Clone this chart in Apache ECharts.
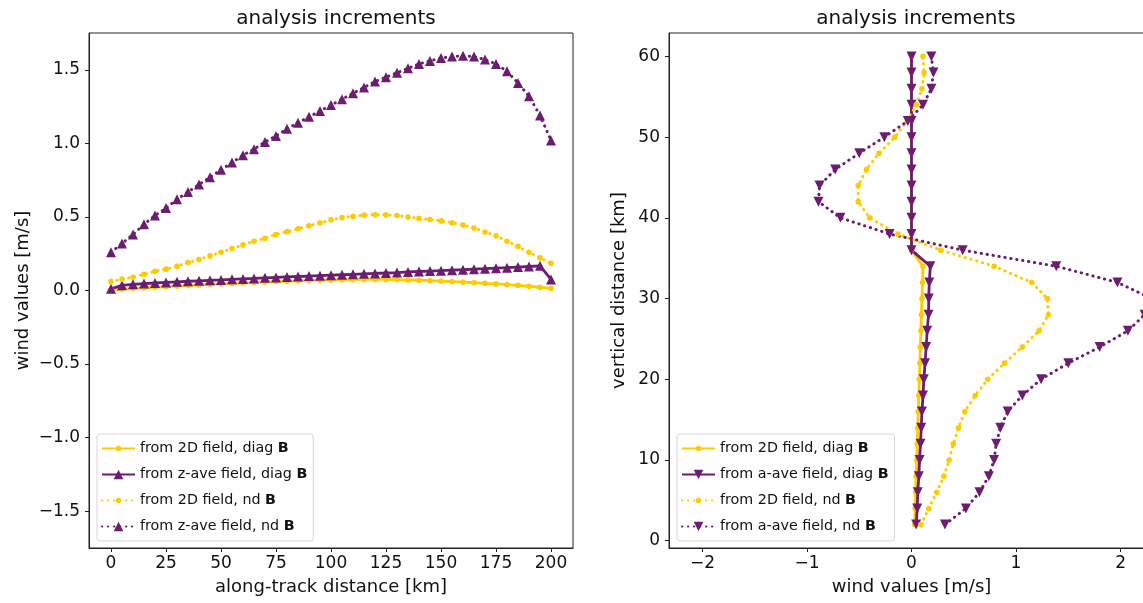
<!DOCTYPE html>
<html>
<head>
<meta charset="utf-8">
<script src="https://cdn.jsdelivr.net/npm/echarts@6/dist/echarts.min.js"></script>
<style>
html, body { margin: 0; padding: 0; background: #fff; }
#chart { width: 1143px; height: 603px; }
</style>
</head>
<body>
<div id="chart"></div>
<script>
// left panel: along-track profiles (km, m/s)
var alongTrack = [0, 5, 10, 15, 20, 25, 30, 35, 40, 45, 50, 55, 60, 65, 70, 75, 80, 85, 90, 95,
  100, 105, 110, 115, 120, 125, 130, 135, 140, 145, 150, 155, 160, 165, 170, 175, 180, 185, 190, 195, 200];
var twoDDiagLeft = [0.004, 0.010, 0.014, 0.018, 0.022, 0.026, 0.030, 0.034, 0.038, 0.042, 0.045, 0.049, 0.052, 0.055, 0.058, 0.061, 0.064, 0.066, 0.068, 0.070,
  0.072, 0.073, 0.074, 0.075, 0.075, 0.075, 0.074, 0.072, 0.070, 0.067, 0.064, 0.061, 0.057, 0.053, 0.049, 0.045, 0.040, 0.035, 0.029, 0.022, 0.014];
var zAveDiagLeft = [0.012, 0.035, 0.042, 0.047, 0.051, 0.055, 0.059, 0.063, 0.066, 0.069, 0.072, 0.076, 0.079, 0.082, 0.086, 0.089, 0.092, 0.095, 0.098, 0.101,
  0.104, 0.107, 0.110, 0.113, 0.116, 0.119, 0.122, 0.126, 0.129, 0.132, 0.135, 0.138, 0.141, 0.145, 0.148, 0.152, 0.155, 0.159, 0.163, 0.168, 0.075];
var twoDNdLeft = [0.06, 0.077, 0.09, 0.11, 0.13, 0.145, 0.165, 0.19, 0.21, 0.235, 0.26, 0.285, 0.31, 0.335, 0.355, 0.38, 0.40, 0.42, 0.44, 0.46,
  0.48, 0.495, 0.505, 0.512, 0.515, 0.515, 0.51, 0.50, 0.49, 0.483, 0.473, 0.46, 0.445, 0.425, 0.398, 0.372, 0.335, 0.30, 0.26, 0.222, 0.185];
var zAveNdLeft = [0.26, 0.32, 0.38, 0.45, 0.51, 0.56, 0.62, 0.67, 0.72, 0.77, 0.82, 0.87, 0.92, 0.96, 1.01, 1.05, 1.10, 1.14, 1.18, 1.22,
  1.26, 1.30, 1.34, 1.38, 1.42, 1.45, 1.48, 1.51, 1.54, 1.56, 1.58, 1.59, 1.595, 1.59, 1.57, 1.54, 1.49, 1.41, 1.32, 1.19, 1.02];

// right panel: vertical profiles (km, m/s)
var heights = [2, 4, 6, 8, 10, 12, 14, 16, 18, 20, 22, 24, 26, 28, 30, 32, 34, 36, 38, 40, 42, 44, 46, 48, 50, 52, 54, 56, 58, 60];
var twoDDiagRight = [0.03, 0.035, 0.04, 0.045, 0.05, 0.055, 0.06, 0.065, 0.07, 0.075, 0.08, 0.085, 0.09, 0.095, 0.10, 0.105, 0.11,
  0, 0, 0, 0, 0, 0, 0, 0, 0, 0, 0, 0, 0];
var aAveDiagRight = [0.045, 0.055, 0.06, 0.07, 0.077, 0.086, 0.093, 0.10, 0.11, 0.118, 0.13, 0.14, 0.15, 0.163, 0.165, 0.17, 0.18,
  0, 0, 0, 0, 0, 0, 0, 0, 0, 0, 0, 0, 0];
var twoDNdRight = [0.09, 0.165, 0.24, 0.31, 0.36, 0.40, 0.45, 0.51, 0.61, 0.73, 0.89, 1.06, 1.22, 1.31, 1.30, 1.15, 0.79,
  0.28, -0.13, -0.40, -0.51, -0.51, -0.43, -0.31, -0.16, -0.04, 0.045, 0.10, 0.12, 0.11];
var aAveNdRight = [0.32, 0.52, 0.65, 0.74, 0.79, 0.81, 0.85, 0.92, 1.06, 1.24, 1.50, 1.80, 2.07, 2.23, 2.30, 1.97, 1.385,
  0.49, -0.21, -0.68, -0.89, -0.88, -0.73, -0.50, -0.26, -0.035, 0.11, 0.19, 0.21, 0.19];

// tick labels
var leftXTicks = [0, 25, 50, 75, 100, 125, 150, 175, 200];
var leftYTicks = [-1.5, -1.0, -0.5, 0.0, 0.5, 1.0, 1.5];
var rightXTicks = [-2, -1, 0, 1, 2];
var rightYTicks = [0, 10, 20, 30, 40, 50, 60];

var YELLOW = '#ffcb00';
var PURPLE = '#6c1d70';
var FONT = 'DejaVu Sans';
// small round dot centred in a 10x10 box, so the legend icon stays small too
var DOT = 'path://M0 0M10 10M5 2.2A2.8 2.8 0 1 1 5 7.8A2.8 2.8 0 1 1 5 2.2Z';

function pairs(xs, ys) {
  var out = [];
  for (var i = 0; i < xs.length; i++) out.push([xs[i], ys[i]]);
  return out;
}

function minus(s) { return String(s).replace('-', '\u2212'); }

function line(name, idx, data, color, dotted, symbol, size, rotate) {
  return {
    name: name, type: 'line', xAxisIndex: idx, yAxisIndex: idx,
    data: data, symbol: symbol, symbolSize: size, symbolRotate: rotate || 0,
    showAllSymbol: true, smooth: false,
    lineStyle: dotted ? { color: color, width: 3, type: [0.3, 5.7], cap: 'round' }
                      : { color: color, width: 2.8 },
    itemStyle: { color: color, borderWidth: 0 },
    emphasis: { disabled: true }
  };
}

function xAxis(idx, min, max, ticks, name) {
  return {
    type: 'value', gridIndex: idx, min: min, max: max,
    name: name, nameLocation: 'middle', nameGap: 30,
    nameTextStyle: { fontFamily: FONT, fontSize: 18, color: '#111' },
    axisLine: { show: true, onZero: false, lineStyle: { color: '#222', width: 1 } },
    axisTick: { show: true, length: 4, customValues: ticks, lineStyle: { color: '#222' } },
    axisLabel: { customValues: ticks, margin: 7, fontFamily: FONT, fontSize: 17, color: '#111',
      formatter: function (v) { return minus(v); } },
    splitLine: { show: false }
  };
}

function yAxis(idx, min, max, ticks, name, gap, digits) {
  return {
    type: 'value', gridIndex: idx, min: min, max: max,
    name: name, nameLocation: 'middle', nameGap: gap,
    nameTextStyle: { fontFamily: FONT, fontSize: 18, color: '#111' },
    axisLine: { show: true, onZero: false, lineStyle: { color: '#222', width: 1 } },
    axisTick: { show: true, length: 4, customValues: ticks, lineStyle: { color: '#222' } },
    axisLabel: { customValues: ticks, margin: 9, fontFamily: FONT, fontSize: 17, color: '#111',
      formatter: function (v) { return minus(digits ? v.toFixed(digits) : v); } },
    splitLine: { show: false }
  };
}

function legend(left, names) {
  return {
    left: left, top: 434, orient: 'vertical',
    data: names,
    itemWidth: 33, itemHeight: 12, itemGap: 9, itemTextGap: 11,
    padding: [6, 6, 6, 4],
    backgroundColor: '#fff', borderColor: '#d6d6d6', borderWidth: 1, borderRadius: 3,
    selectedMode: false,
    formatter: function (n) { return '{t|' + n + '} {b|B}'; },
    textStyle: {
      fontFamily: FONT, fontSize: 14.3, color: '#111', lineHeight: 17,
      rich: {
        t: { fontFamily: FONT, fontSize: 14.3, color: '#111', lineHeight: 17 },
        b: { fontFamily: FONT, fontSize: 14.3, fontWeight: 'bold', color: '#111', lineHeight: 17 }
      }
    }
  };
}

var chart = echarts.init(document.getElementById('chart'), null, { renderer: 'canvas' });
chart.setOption({
  animation: false,
  backgroundColor: '#fff',
  title: [
    { text: 'analysis increments', left: 331, top: 4, textAlign: 'center',
      textStyle: { fontFamily: FONT, fontSize: 20, fontWeight: 'normal', color: '#111' } },
    { text: 'analysis increments', left: 911, top: 4, textAlign: 'center',
      textStyle: { fontFamily: FONT, fontSize: 20, fontWeight: 'normal', color: '#111' } }
  ],
  grid: [
    { left: 89, top: 33, width: 484, height: 515, show: true, borderColor: '#222', borderWidth: 1,
      backgroundColor: 'transparent', outerBoundsMode: 'none' },
    { left: 669, top: 33, width: 485, height: 515, show: true, borderColor: '#222', borderWidth: 1,
      backgroundColor: 'transparent', outerBoundsMode: 'none' }
  ],
  xAxis: [
    xAxis(0, -10, 210, leftXTicks, 'along-track distance [km]'),
    xAxis(1, -2.32, 2.32, rightXTicks, 'wind values [m/s]')
  ],
  yAxis: [
    yAxis(0, -1.75, 1.75, leftYTicks, 'wind values [m/s]', 57, 1),
    yAxis(1, -0.9, 62.9, rightYTicks, 'vertical distance [km]', 41, 0)
  ],
  legend: [
    legend(97, ['from 2D field, diag', 'from z-ave field, diag', 'from 2D field, nd', 'from z-ave field, nd']),
    legend(677, ['from 2D field, diag', 'from a-ave field, diag', 'from 2D field, nd', 'from a-ave field, nd'])
  ],
  series: [
    line('from 2D field, diag', 0, pairs(alongTrack, twoDDiagLeft), YELLOW, false, DOT, 10),
    line('from z-ave field, diag', 0, pairs(alongTrack, zAveDiagLeft), PURPLE, false, 'triangle', 10),
    line('from 2D field, nd', 0, pairs(alongTrack, twoDNdLeft), YELLOW, true, DOT, 10),
    line('from z-ave field, nd', 0, pairs(alongTrack, zAveNdLeft), PURPLE, true, 'triangle', 10),
    line('from 2D field, diag', 1, pairs(twoDDiagRight, heights), YELLOW, false, DOT, 10),
    line('from a-ave field, diag', 1, pairs(aAveDiagRight, heights), PURPLE, false, 'triangle', 10, 180),
    line('from 2D field, nd', 1, pairs(twoDNdRight, heights), YELLOW, true, DOT, 10),
    line('from a-ave field, nd', 1, pairs(aAveNdRight, heights), PURPLE, true, 'triangle', 10, 180)
  ]
});
</script>
</body>
</html>
